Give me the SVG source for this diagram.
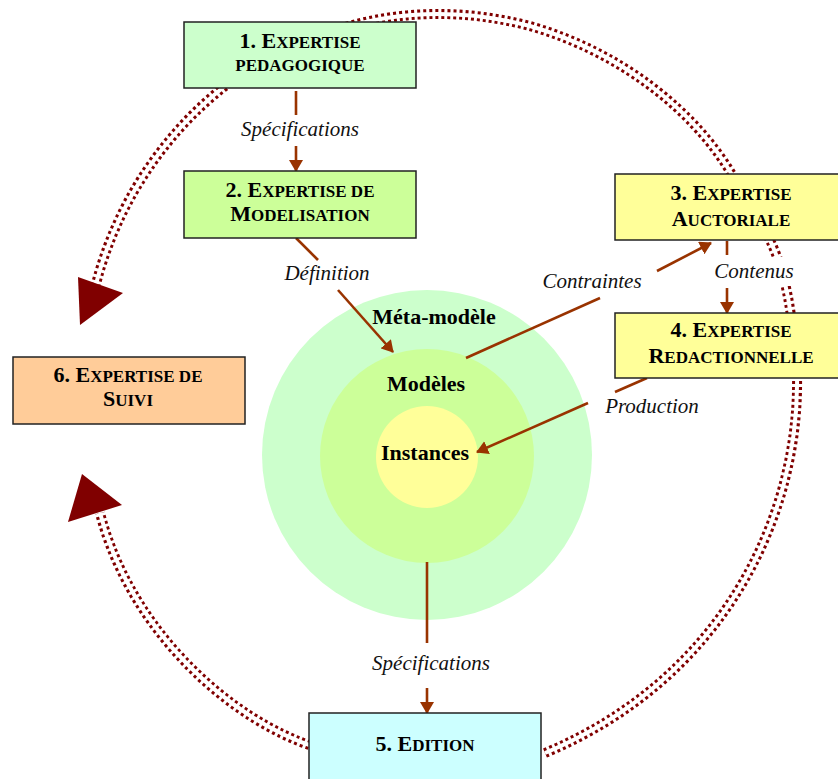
<svg xmlns="http://www.w3.org/2000/svg" width="838" height="779" viewBox="0 0 838 779">
<defs>
<marker id="ah" viewBox="0 0 12 14" refX="11" refY="7" markerWidth="12" markerHeight="14" orient="auto" markerUnits="userSpaceOnUse"><path d="M0,0 L12,7 L0,14 z" fill="#993300"/></marker>
<style>
.arc{fill:none;stroke:#800000;stroke-width:10;stroke-dasharray:3 3}
.arcw{fill:none;stroke:#fff;stroke-width:4}
.head{fill:#800000}
.con{fill:none;stroke:#993300;stroke-width:2.6}
.box{stroke:#222;stroke-width:1.5}
.bt{font-family:"Liberation Serif","Times New Roman",serif;font-weight:bold;font-size:22px;fill:#000;text-anchor:middle}
.sc{font-size:17px}
.lbl{font-family:"Liberation Serif","Times New Roman",serif;font-style:italic;font-size:21px;fill:#111;text-anchor:middle}
.ct{font-family:"Liberation Serif","Times New Roman",serif;font-weight:bold;font-size:22px;fill:#000;text-anchor:middle}
</style>
</defs>
<rect width="838" height="779" fill="#fff"/>
<g id="cycle">
<path id="arcA" class="arc" d="M335,30 Q430,0 530,26 C620,52 695,110 734,178"/>
<path class="arcw" d="M335,30 Q430,0 530,26 C620,52 695,110 734,178"/>
<path id="arcB" class="arc" d="M768,236 Q785,270 791,316"/>
<path class="arcw" d="M768,236 Q785,270 791,316"/>
<path id="arcC" class="arc" d="M797,375 C800,520 720,680 545,753"/>
<path class="arcw" d="M797,375 C800,520 720,680 545,753"/>
<path id="arcD" class="arc" d="M315,747 C230,720 130,630 100,513"/>
<path class="arcw" d="M315,747 C230,720 130,630 100,513"/>
<path id="arcE" class="arc" d="M225,86 A370,370 0 0 0 96,284"/>
<path class="arcw" d="M225,86 A370,370 0 0 0 96,284"/>
<polygon class="head" points="78,277 123,293 80,325"/>
<polygon class="head" points="82,474 68,522 122,505"/>
</g>
<g id="cercles">
<circle cx="427" cy="455" r="165" fill="#CCFFCC"/>
<circle cx="427" cy="456" r="107" fill="#CCFF99"/>
<circle cx="427" cy="457" r="51" fill="#FFFF99"/>
<text class="ct" x="434" y="324">Méta-modèle</text>
<text class="ct" x="426" y="391">Modèles</text>
<text class="ct" x="425" y="460">Instances</text>
</g>
<g id="connecteurs">
<line class="con" x1="296" y1="91" x2="296" y2="115"/>
<line class="con" x1="296" y1="146" x2="296" y2="171" marker-end="url(#ah)"/>
<text class="lbl" x="300" y="136">Spécifications</text>
<line class="con" x1="296" y1="238" x2="318" y2="260"/>
<line class="con" x1="338" y1="290" x2="393" y2="352" marker-end="url(#ah)"/>
<text class="lbl" x="327" y="280">Définition</text>
<line class="con" x1="466" y1="358" x2="600" y2="298"/>
<line class="con" x1="657" y1="271" x2="711" y2="243" marker-end="url(#ah)"/>
<text class="lbl" x="592" y="288">Contraintes</text>
<line class="con" x1="727" y1="241" x2="727" y2="255"/>
<line class="con" x1="727" y1="288" x2="727" y2="313" marker-end="url(#ah)"/>
<rect x="711" y="257" width="88" height="29" fill="#fff"/>
<text class="lbl" x="754" y="278">Contenus</text>
<line class="con" x1="647" y1="378" x2="615" y2="392"/>
<line class="con" x1="588" y1="403" x2="477" y2="452" marker-end="url(#ah)"/>
<text class="lbl" x="652" y="413">Production</text>
<line class="con" x1="427" y1="562" x2="427" y2="643"/>
<line class="con" x1="427" y1="688" x2="427" y2="713" marker-end="url(#ah)"/>
<text class="lbl" x="431" y="670">Spécifications</text>
</g>
<g id="n1">
<rect class="box" x="184" y="22" width="232" height="66" fill="#CCFFCC"/>
<text class="bt" x="300" y="48">1. E<tspan class="sc">XPERTISE</tspan></text>
<text class="bt sc" x="300" y="71">PEDAGOGIQUE</text>
</g>
<g id="n2">
<rect class="box" x="184" y="171" width="232" height="67" fill="#CCFF99"/>
<text class="bt" x="300" y="197">2. E<tspan class="sc">XPERTISE DE</tspan></text>
<text class="bt" x="300" y="221">M<tspan class="sc">ODELISATION</tspan></text>
</g>
<g id="n3">
<rect class="box" x="615" y="174" width="232" height="66" fill="#FFFF99"/>
<text class="bt" x="731" y="200">3. E<tspan class="sc">XPERTISE</tspan></text>
<text class="bt" x="731" y="226">A<tspan class="sc">UCTORIALE</tspan></text>
</g>
<g id="n4">
<rect class="box" x="615" y="313" width="232" height="65" fill="#FFFF99"/>
<text class="bt" x="731" y="337">4. E<tspan class="sc">XPERTISE</tspan></text>
<text class="bt" x="731" y="363">R<tspan class="sc">EDACTIONNELLE</tspan></text>
</g>
<g id="n6">
<rect class="box" x="13" y="357" width="232" height="67" fill="#FFCC99"/>
<text class="bt" x="128" y="382">6. E<tspan class="sc">XPERTISE DE</tspan></text>
<text class="bt" x="128" y="406">S<tspan class="sc">UIVI</tspan></text>
</g>
<g id="n5">
<rect class="box" x="309" y="713" width="232" height="80" fill="#CCFFFF"/>
<text class="bt" x="425" y="751">5. E<tspan class="sc">DITION</tspan></text>
</g>
</svg>
